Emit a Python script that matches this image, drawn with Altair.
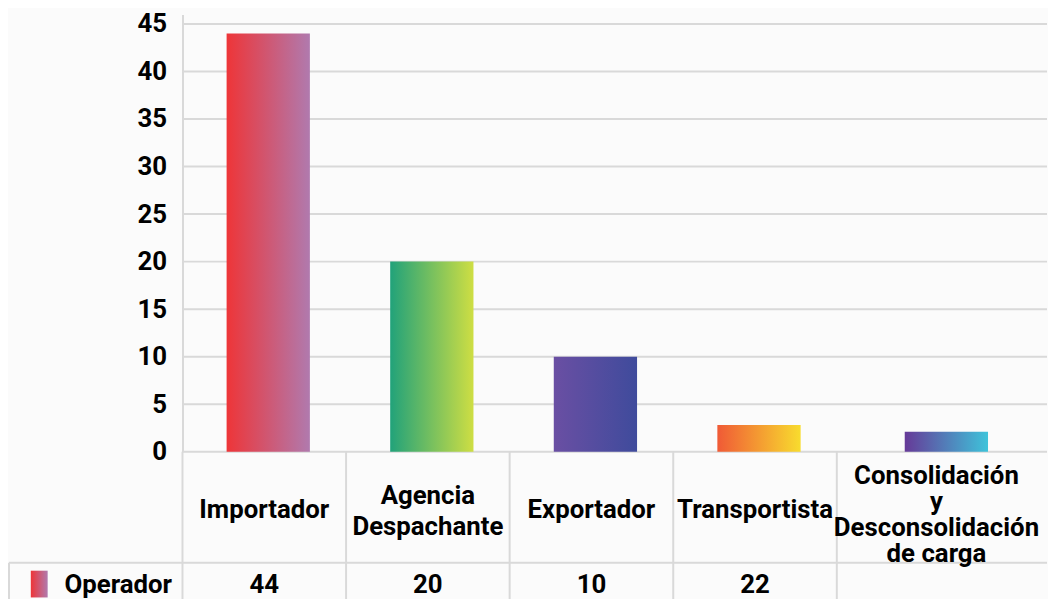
import altair as alt
import pandas as pd

# ---- data ----
categories = [
    "Importador",
    "Agencia Despachante",
    "Exportador",
    "Transportista",
    "Consolidación y Desconsolidación de carga",
]
header_labels = [
    "Importador",
    "Agencia\nDespachante",
    "Exportador",
    "Transportista",
    "Consolidación\ny\nDesconsolidación\nde carga",
]
bar_values = [44, 20, 10, 2.8, 2.1]
table_values = ["44", "20", "10", "22", ""]
series_name = "Operador"
gradient_colors = [
    ("#EE3538", "#B07AAE"),
    ("#21A27A", "#CEDE43"),
    ("#6A4FA3", "#3F4B9C"),
    ("#F05A36", "#F8DC2E"),
    ("#663A98", "#3EC3DA"),
]
y_ticks = [0, 5, 10, 15, 20, 25, 30, 35, 40, 45]

df = pd.DataFrame({
    "cat": categories,
    "header": header_labels,
    "value": bar_values,
    "table": table_values,
})
ticks_df = pd.DataFrame({"value": y_ticks})
one = pd.DataFrame({"s": [series_name]})

FONT = "Roboto"
GRID = "#d9d9d9"
BANDS = 825      # 5 columns of 165 px
FULL = 872       # view runs to the page edge
H = 441
TH = 153
LAST_BAR_SHIFT = 28
LAST_TEXT_SHIFT = 18


def grad(c0, c1):
    return alt.Gradient(
        gradient="linear", x1=0, y1=0, x2=1, y2=0,
        stops=[alt.GradientStop(offset=0, color=c0), alt.GradientStop(offset=1, color=c1)],
    )


xscale = alt.Scale(domain=categories, paddingInner=0, paddingOuter=0, range=[0, BANDS])
yscale = alt.Scale(domain=[0, 46], nice=False)
x_enc = alt.X("cat:N", scale=xscale, axis=None)
y_enc = alt.Y(
    "value:Q",
    scale=yscale,
    axis=alt.Axis(
        values=y_ticks, grid=False,
        domainColor=GRID, domainWidth=2, ticks=False,
        labelFont=FONT, labelFontSize=26, labelFontWeight="bold", labelColor="#000",
        labelPadding=16, title=None, labelOverlap=False, labelFlush=False,
    ),
)

grid = alt.Chart(ticks_df).mark_rule(color=GRID, strokeWidth=2).encode(
    y=y_enc, x=alt.value(0), x2=alt.value(FULL)
)

base = alt.Chart(df)
bar_layers = []
for i, (cat, (c0, c1)) in enumerate(zip(categories, gradient_colors)):
    shift = LAST_BAR_SHIFT if i == len(categories) - 1 else 4
    bar_layers.append(
        base.transform_filter(alt.FieldEqualPredicate(field="cat", equal=cat))
        .mark_bar(size=84, fill=grad(c0, c1), xOffset=shift)
        .encode(x=x_enc, y=y_enc)
    )
top = alt.layer(grid, *bar_layers).properties(width=FULL, height=H)

# ---- table ----
vrules = base.mark_rule(color=GRID, strokeWidth=2).encode(
    x=alt.X("cat:N", scale=xscale, axis=None, bandPosition=0),
    y=alt.value(0), y2=alt.value(TH),
)
oneb = alt.Chart(one)
hrule = oneb.mark_rule(color=GRID, strokeWidth=2).encode(
    x=alt.value(-175), x2=alt.value(FULL), y=alt.value(112)
)
lrule = oneb.mark_rule(color=GRID, strokeWidth=2).encode(
    x=alt.value(-175), y=alt.value(112), y2=alt.value(TH)
)
txt = dict(font=FONT, fontSize=26, fontWeight="bold", color="#000", baseline="middle")

single = [c for c, h in zip(categories, header_labels) if "\n" not in h]
head1 = base.transform_filter(
    alt.FieldOneOfPredicate(field="cat", oneOf=single)
).mark_text(align="center", **txt).encode(
    x=x_enc, y=alt.value(59), text="header:N"
)
head2 = base.transform_filter(
    alt.FieldEqualPredicate(field="cat", equal=categories[1])
).mark_text(align="center", lineBreak="\n", lineHeight=31, **txt).encode(
    x=x_enc, y=alt.value(45), text="header:N"
)
head3 = base.transform_filter(
    alt.FieldEqualPredicate(field="cat", equal=categories[-1])
).mark_text(align="center", lineBreak="\n", lineHeight=26, dx=LAST_TEXT_SHIFT, **txt).encode(
    x=x_enc, y=alt.value(25), text="header:N"
)
vals = base.mark_text(align="center", **txt).encode(
    x=x_enc, y=alt.value(135), text="table:N"
)
swatch = oneb.mark_rect(fill=grad(*gradient_colors[0])).encode(
    x=alt.value(-153), x2=alt.value(-136), y=alt.value(120), y2=alt.value(147)
)
opname = oneb.mark_text(align="left", **txt).encode(
    x=alt.value(-119), y=alt.value(135), text="s:N"
)
table = alt.layer(vrules, hrule, lrule, head1, head2, head3, vals, swatch, opname).properties(
    width=FULL, height=TH
)

chart = alt.vconcat(top, table, spacing=0, bounds="flush").properties(
    padding={"left": 0, "top": 0, "right": 0, "bottom": -8},
    background="#fbfbfb",
).configure_view(stroke=None)

chart.save("out.html", embed_options={"renderer": "svg", "actions": False})
